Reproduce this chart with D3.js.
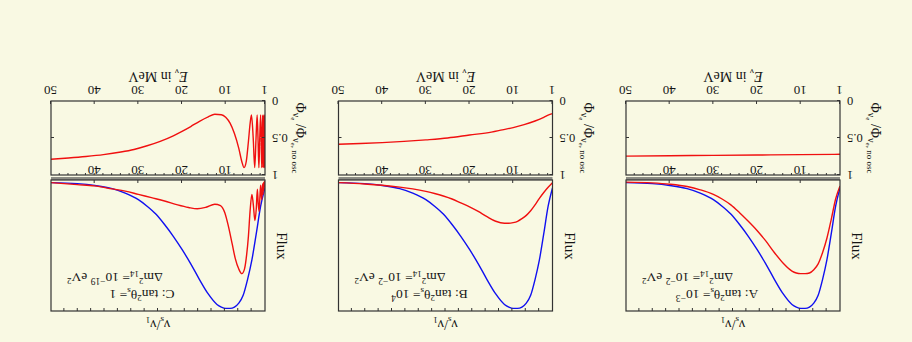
<!DOCTYPE html>
<html>
<head>
<meta charset="utf-8">
<script src="https://cdn.jsdelivr.net/npm/d3@7/dist/d3.min.js"></script>
<style>
  body { margin: 0; background: #f9f9e3; }
  svg { display: block; }
  text { font-family: "Liberation Serif", "DejaVu Serif", serif; fill: #151515; }
</style>
</head>
<body>
<div id="chart"></div>
<script>
// energies (MeV) for the flux curves
const energy = [1, 2, 3, 4, 5, 6, 7, 8, 9, 10, 11, 12, 14, 16, 18, 20, 22, 24, 26, 28, 30, 33, 36, 40, 44, 50];
// no-oscillation flux (blue), same in all panels
const fluxNoOsc = [.06, .20, .41, .61, .76, .88, .94, .97, .98, .98, .97, .95, .87, .76, .64, .53, .43, .34, .26, .20, .15, .10, .066, .042, .028, .02];
const fluxA = [.045, .145, .30, .445, .555, .64, .685, .71, .715, .715, .71, .695, .635, .555, .465, .385, .315, .25, .19, .145, .11, .075, .05, .032, .022, .016];
const fluxB = [.02, .055, .095, .14, .19, .235, .27, .295, .315, .325, .33, .33, .315, .28, .24, .205, .175, .145, .122, .103, .087, .068, .054, .04, .03, .02];
const fluxEnergyC = [1.0, 1.04, 1.09, 1.15, 1.21, 1.28, 1.36, 1.44, 1.53, 1.63, 1.75, 1.87, 2.0, 2.15, 2.35, 2.55, 2.75, 3.0, 3.3, 3.7, 4.0, 4.4, 4.8, 5.2, 5.7, 6.3, 7.0, 7.8, 8.5, 9.4, 10.2, 11.2, 12.5, 14.5, 16.5, 18.5, 21, 24, 27, 30, 33, 36, 40, 44, 50];
const fluxC = [.02, .05, .01, .06, .015, .08, .02, .11, .03, .08, .15, .10, .04, .12, .24, .18, .07, .22, .31, .18, .11, .23, .43, .57, .68, .715, .68, .6, .49, .35, .25, .195, .185, .208, .22, .21, .19, .16, .135, .11, .085, .068, .045, .035, .02];

// survival ratio (red, lower boxes)
const ratioEnergyA = [1, 10, 20, 30, 40, 50];
const ratioA = [.72, .725, .73, .735, .74, .745];
const ratioEnergyB = [1, 2, 3, 5, 7.5, 10, 12.5, 15, 20, 25, 30, 35, 40, 45, 50];
const ratioB = [.17, .19, .22, .27, .32, .36, .39, .42, .46, .50, .525, .545, .562, .575, .585];
const ratioEnergyC = [1.0, 1.04, 1.09, 1.15, 1.21, 1.28, 1.36, 1.44, 1.53, 1.63, 1.75, 1.87, 2.0, 2.2, 2.4, 2.6, 2.8, 3.05, 3.35, 3.7, 4.1, 4.4, 4.8, 5.3, 5.8, 6.3, 7.0, 8.0, 9.0, 10, 11, 12.5, 14, 16, 18, 20, 22, 25, 28, 31, 34, 38, 42, 46, 50];
const ratioC = [.5, .9, .19, .9, .19, .9, .19, .9, .19, .5, .9, .5, .19, .5, .9, .5, .19, .5, .9, .5, .19, .3, .55, .82, .9, .82, .64, .44, .30, .22, .185, .18, .215, .275, .345, .41, .47, .545, .605, .655, .69, .725, .75, .77, .787];

const panelNames = ["A", "B", "C"];
const mixingBase = ["10", "10", "1"];
const mixingExp = ["\u22123", "4", ""];
const massExp = ["\u22122", "\u22122", "\u221219"];
const energyTicks = [1, 10, 20, 30, 40, 50];

const panels = [
  { flux: fluxA, fluxE: energy, ratio: ratioA, ratioE: ratioEnergyA },
  { flux: fluxB, fluxE: energy, ratio: ratioB, ratioE: ratioEnergyB },
  { flux: fluxC, fluxE: fluxEnergyC, ratio: ratioC, ratioE: ratioEnergyC }
];

const W = 912, H = 342;
const boxW = 214;
const fluxTop = 31, fluxBottom = 162, ratioTop = 167, ratioBottom = 241;

const svg = d3.select('#chart').append('svg')
  .attr('width', W).attr('height', H);
svg.append('rect').attr('width', W).attr('height', H).attr('fill', '#f9f9e3');

// the whole figure is shown upside down
const root = svg.append('g').attr('transform', `rotate(180, ${W / 2}, ${H / 2})`);

const yFlux = d3.scaleLinear().domain([0, 1]).range([fluxBottom, fluxTop]);
const yRatio = d3.scaleLinear().domain([0, 1]).range([ratioBottom, ratioTop]);

panels.forEach((p, i) => {
  const left = 72 + i * 287.5;
  const x = d3.scaleLinear().domain([1, 50]).range([left, left + boxW]);
  const nu = d3.scaleLinear().domain([0, 1]).range([left, left + boxW]);
  const g = root.append('g');

  const clipF = 'clipF' + i, clipR = 'clipR' + i;
  g.append('clipPath').attr('id', clipF).append('rect')
    .attr('x', left).attr('y', fluxTop).attr('width', boxW).attr('height', fluxBottom - fluxTop);
  g.append('clipPath').attr('id', clipR).append('rect')
    .attr('x', left).attr('y', ratioTop).attr('width', boxW).attr('height', ratioBottom - ratioTop);

  //flux curves
  const fluxLine = d3.line()
    .x((d) => x(d[0]))
    .y((d) => yFlux(d[1]))
    .curve(d3.curveMonotoneX);

  g.append('path')
    .datum(energy.map((e, k) => [e, fluxNoOsc[k]]))
    .attr('clip-path', `url(#${clipF})`)
    .attr('d', fluxLine)
    .style('fill', 'none').style('stroke', '#1010f0').style('stroke-width', 1.4);

  g.append('path')
    .datum(p.fluxE.map((e, k) => [e, p.flux[k]]))
    .attr('clip-path', `url(#${clipF})`)
    .attr('d', fluxLine)
    .style('fill', 'none').style('stroke', '#f01010').style('stroke-width', 1.4);

  //ratio curve
  const ratioLine = d3.line()
    .x((d) => x(d[0]))
    .y((d) => yRatio(d[1]))
    .curve(d3.curveMonotoneX);

  g.append('path')
    .datum(p.ratioE.map((e, k) => [e, p.ratio[k]]))
    .attr('clip-path', `url(#${clipR})`)
    .attr('d', ratioLine)
    .style('fill', 'none').style('stroke', '#f01010').style('stroke-width', 1.4);

  //flux box
  g.append('line')
    .attr('x1', left).attr('x2', left + boxW)
    .attr('y1', fluxBottom + 1.5).attr('y2', fluxBottom + 1.5)
    .style('stroke', '#8c8c84').style('stroke-width', 3);
  g.append('rect')
    .attr('x', left).attr('y', fluxTop).attr('width', boxW).attr('height', fluxBottom - fluxTop)
    .style('fill', 'none').style('stroke', '#333').style('stroke-width', 1.2);

  // top minor ticks (nu_s / nu_1)
  g.append('g')
    .attr('transform', `translate(0, ${fluxTop})`)
    .call(d3.axisTop(nu).tickValues(d3.range(1, 16).map((k) => k / 16)).tickSize(-3).tickFormat(''))
    .call((a) => a.select('.domain').remove());

  // energy ticks under the flux box
  g.append('g')
    .attr('transform', `translate(0, ${fluxBottom})`)
    .call(d3.axisBottom(x).tickValues([10, 20, 30, 40]).tickSizeInner(-3).tickSizeOuter(0).tickPadding(5))
    .call((a) => a.select('.domain').remove())
    .call((a) => a.selectAll('text').attr('font-size', 13).attr('font-family', 'Liberation Serif'));

  //ratio box
  g.append('rect')
    .attr('x', left).attr('y', ratioTop).attr('width', boxW).attr('height', ratioBottom - ratioTop)
    .style('fill', 'none').style('stroke', '#333').style('stroke-width', 1.2);

  g.append('g')
    .attr('transform', `translate(0, ${ratioTop})`)
    .call(d3.axisTop(x).tickValues(d3.range(2, 50, 2)).tickSize(-2).tickFormat(''))
    .call((a) => a.select('.domain').remove());

  g.append('g')
    .attr('transform', `translate(0, ${ratioBottom})`)
    .call(d3.axisBottom(x).tickValues(energyTicks).tickSizeInner(-3).tickSizeOuter(0).tickPadding(6))
    .call((a) => a.select('.domain').remove())
    .call((a) => a.selectAll('text').attr('font-size', 13).attr('font-family', 'Liberation Serif'));

  g.append('g')
    .attr('transform', `translate(${left}, 0)`)
    .call(d3.axisLeft(yRatio).tickValues([0, 0.5, 1]).tickFormat(d3.format('')).tickSizeInner(-3).tickSizeOuter(0).tickPadding(7))
    .call((a) => a.select('.domain').remove())
    .call((a) => a.selectAll('text').attr('font-size', 12.5).attr('font-family', 'Liberation Serif'));

  g.append('g')
    .attr('transform', `translate(${left + boxW}, 0)`)
    .call(d3.axisRight(yRatio).tickValues([0.5]).tickSize(-3).tickFormat(''))
    .call((a) => a.select('.domain').remove());

  g.selectAll('.tick line').style('stroke', '#333');

  //labels
  const cx = left + boxW / 2;
  const top = g.append('text').attr('x', cx).attr('y', 22).attr('text-anchor', 'middle').attr('font-size', 14);
  top.append('tspan').text('\u03bd');
  top.append('tspan').attr('font-size', 9).attr('baseline-shift', '-3').text('s');
  top.append('tspan').text('/\u03bd');
  top.append('tspan').attr('font-size', 9).attr('baseline-shift', '-3').text('1');

  const bottom = g.append('text').attr('x', cx).attr('y', 270).attr('text-anchor', 'middle').attr('font-size', 14);
  bottom.append('tspan').attr('font-style', 'italic').text('E');
  bottom.append('tspan').attr('font-size', 9).attr('baseline-shift', '-3').text('\u03bd');
  bottom.append('tspan').text(' in MeV');

  g.append('text')
    .attr('transform', `translate(${left - 12}, 96) rotate(-90)`)
    .attr('text-anchor', 'middle').attr('font-size', 15)
    .text('Flux');

  const phi = g.append('text')
    .attr('transform', `translate(${left - 31}, 204) rotate(-90)`)
    .attr('text-anchor', 'middle').attr('font-size', 14);
  phi.append('tspan').text('\u03a6');
  phi.append('tspan').attr('font-size', 10).attr('baseline-shift', '-3').text('\u03bd');
  phi.append('tspan').attr('font-size', 7).attr('baseline-shift', '-5').text('e');
  phi.append('tspan').text(' /\u03a6');
  phi.append('tspan').attr('font-size', 10).attr('baseline-shift', '-3').text('\u03bd');
  phi.append('tspan').attr('font-size', 7).attr('baseline-shift', '-5').text('e');
  phi.append('tspan').attr('font-size', 9).attr('baseline-shift', '-4').text(', no osc');

  const l1 = g.append('text').attr('x', left + 123).attr('y', 52).attr('text-anchor', 'middle').attr('font-size', 13.5);
  l1.append('tspan').text(panelNames[i] + ': tan');
  l1.append('tspan').attr('font-size', 9).attr('baseline-shift', '5').text('2');
  l1.append('tspan').text('\u03b8');
  l1.append('tspan').attr('font-size', 9).attr('baseline-shift', '-2').text('s');
  l1.append('tspan').text('= ' + mixingBase[i]);
  if (mixingExp[i]) l1.append('tspan').attr('font-size', 9.5).attr('baseline-shift', '5').text(mixingExp[i]);

  const l2 = g.append('text').attr('x', left + 198).attr('y', 69).attr('text-anchor', 'end').attr('font-size', 13.5);
  l2.append('tspan').text('\u0394m');
  l2.append('tspan').attr('font-size', 9).attr('baseline-shift', '5').text('2');
  l2.append('tspan').attr('font-size', 9).attr('baseline-shift', '-2').text('14');
  l2.append('tspan').text('= 10');
  l2.append('tspan').attr('font-size', 9.5).attr('baseline-shift', '5').text(massExp[i]);
  l2.append('tspan').text('  eV');
  l2.append('tspan').attr('font-size', 9).attr('baseline-shift', '5').text('2');
});
</script>
</body>
</html>
